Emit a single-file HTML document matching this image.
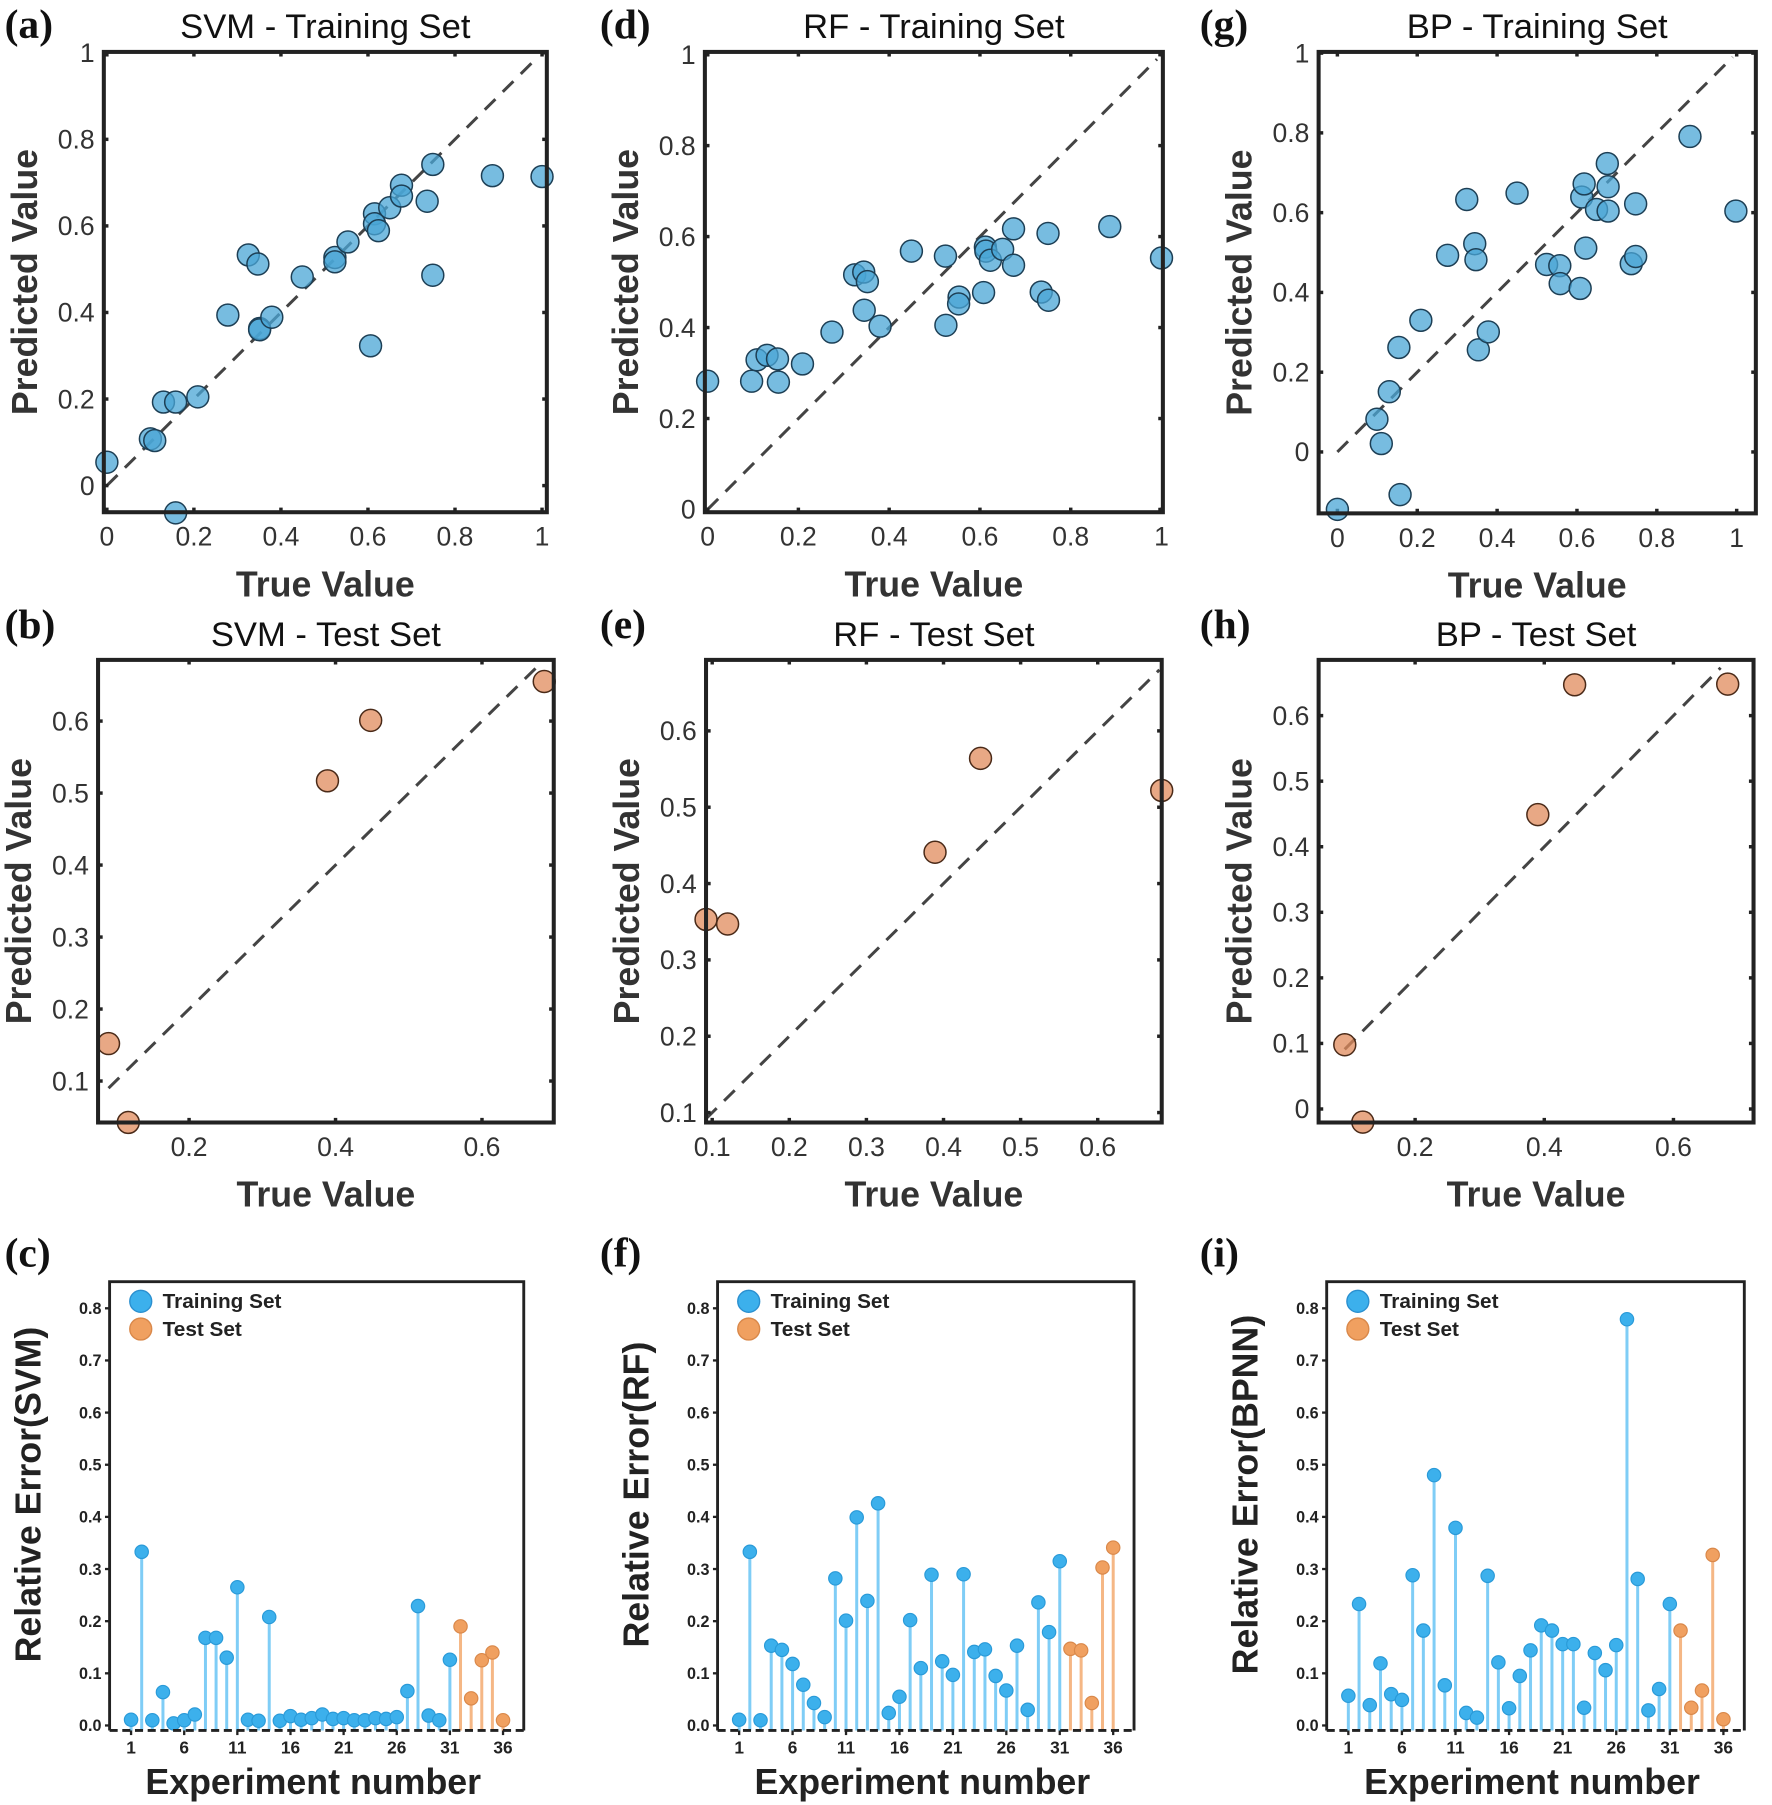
<!DOCTYPE html>
<html><head><meta charset="utf-8">
<style>
html,body{margin:0;padding:0;background:#fff;}
svg{display:block;}
text{font-family:"Liberation Sans",sans-serif;}
</style></head>
<body>
<svg id="fig" width="1772" height="1805" viewBox="0 0 1536 1564.6" preserveAspectRatio="none" xmlns="http://www.w3.org/2000/svg"></svg>
<script>
// ---- data: scatter panels ----
const svmTrainX=[0,.10,.11,.13,.158,.209,.158,.278,.325,.347,.351,.351,.379,.449,.524,.524,.554,.606,.615,.615,.624,.65,.677,.677,.736,.749,.749,.886,1.0];
const svmTrainY=[.054,.108,.104,.193,.193,.205,-.063,.394,.533,.512,.363,.36,.389,.482,.527,.517,.563,.323,.628,.605,.589,.642,.694,.669,.657,.742,.486,.716,.714];
const rfTrainX=[0,.097,.109,.131,.154,.156,.209,.274,.324,.344,.352,.345,.38,.449,.524,.525,.554,.553,.608,.612,.613,.623,.65,.674,.674,.735,.751,.75,.886,1.0];
const rfTrainY=[.282,.282,.329,.339,.331,.28,.320,.39,.516,.522,.501,.438,.403,.568,.557,.405,.467,.452,.477,.577,.568,.548,.572,.617,.537,.478,.46,.607,.622,.553];
const bpTrainX=[0,.099,.110,.130,.154,.157,.209,.276,.324,.344,.347,.353,.378,.45,.524,.557,.558,.608,.612,.618,.622,.649,.676,.678,.678,.736,.747,.747,.883,.998];
const bpTrainY=[-.144,.082,.021,.151,.262,-.107,.33,.493,.633,.522,.482,.256,.301,.649,.47,.467,.422,.41,.639,.672,.511,.608,.723,.665,.604,.472,.49,.622,.791,.604];
const svmTestX=[.090,.117,.389,.448,.685];
const svmTestY=[.152,.0425,.517,.601,.655];
const rfTestX=[.092,.12,.389,.448,.683];
const rfTestY=[.353,.347,.441,.564,.522];
const bpTestX=[.0911,.119,.39,.447,.684];
const bpTestY=[.098,-.02,.449,.647,.648];
const tick0to1=[0,0.2,0.4,0.6,0.8,1];
const tick0to1Labels=["0","0.2","0.4","0.6","0.8","1"];
// ---- data: relative error panels ----
const experiments=[1,2,3,4,5,6,7,8,9,10,11,12,13,14,15,16,17,18,19,20,21,22,23,24,25,26,27,28,29,30,31,32,33,34,35,36];
const trainCount=31;
const svmErr=[.011,.333,.01,.064,.004,.01,.021,.168,.168,.130,.265,.011,.009,.208,.009,.018,.011,.014,.021,.0125,.014,.01,.01,.014,.0125,.016,.066,.229,.019,.01,.126,.19,.052,.125,.14,.01];
const rfErr=[.011,.333,.01,.153,.145,.118,.078,.043,.016,.282,.201,.399,.239,.426,.024,.055,.202,.11,.289,.123,.097,.29,.141,.146,.095,.067,.153,.03,.236,.179,.315,.147,.144,.043,.303,.341];
const bpErr=[.057,.233,.039,.119,.06,.049,.288,.182,.48,.077,.379,.024,.015,.287,.121,.033,.095,.144,.192,.182,.156,.156,.034,.139,.106,.154,.779,.281,.029,.07,.233,.182,.034,.067,.327,.012];
const errTicks=[0,0.1,0.2,0.3,0.4,0.5,0.6,0.7,0.8];
const errTickLabels=["0.0","0.1","0.2","0.3","0.4","0.5","0.6","0.7","0.8"];
const expTicks=[1,6,11,16,21,26,31,36];

const NS="http://www.w3.org/2000/svg";
const svg=document.getElementById('fig');
function el(tag,attrs,parent,txt){const e=document.createElementNS(NS,tag);for(const k in attrs)e.setAttribute(k,attrs[k]);if(txt!==undefined)e.textContent=txt;(parent||svg).appendChild(e);return e;}
function scale(d0,d1,r0,r1){return v=>r0+(v-d0)/(d1-d0)*(r1-r0);}

function panelLabel(t,x,y){
  const e=el('text',{x:x,y:y,'font-size':36,'font-weight':'bold',style:'font-family:"Liberation Serif",serif',fill:'#111'},svg,t);
  
  
}

function scatter(o){
  const g=el('g',{});
  
  
  const [x0,y0,x1,y1]=o.box;
  const sx=scale(o.xd[0],o.xd[1],x0,x1), sy=scale(o.yd[0],o.yd[1],y1,y0);
  const t=el('text',{x:(x0+x1)/2,y:y0-12,'text-anchor':'middle','font-size':30,fill:'#111'},g,o.title);
  
  
  const dl=el('line',{x1:sx(o.diag[0]),y1:sy(o.diag[0]),x2:sx(o.diag[1]),y2:sy(o.diag[1]),stroke:'#444','stroke-width':2.6,'stroke-dasharray':'13 9'},g);
  
  
  o.xt.forEach((v,i)=>{
    const px=sx(v);
    el('line',{x1:px,y1:y1,x2:px,y2:y1-4,stroke:'#222','stroke-width':3},g);
    el('line',{x1:px,y1:y0,x2:px,y2:y0+4,stroke:'#222','stroke-width':3},g);
    const tl=el('text',{x:px,y:y1+29,'text-anchor':'middle','font-size':23,fill:'#333'},g,o.xl[i]);
    
    
  });
  o.yt.forEach((v,i)=>{
    const py=sy(v);
    el('line',{x1:x0,y1:py,x2:x0+4,y2:py,stroke:'#222','stroke-width':3},g);
    el('line',{x1:x1,y1:py,x2:x1-4,y2:py,stroke:'#222','stroke-width':3},g);
    const tl=el('text',{x:x0-8,y:py+8,'text-anchor':'end','font-size':23,fill:'#333'},g,o.yl[i]);
    
    
  });
  o.X.forEach((xv,i)=>{
    const c=el('circle',{cx:sx(xv),cy:sy(o.Y[i]),r:9.5,fill:o.fill,'fill-opacity':0.75,stroke:o.stroke,'stroke-width':1.3},g);
    
    
  });
  const b=el('rect',{x:x0,y:y0,width:x1-x0,height:y1-y0,fill:'none',stroke:'#222','stroke-width':3.5},g);
  
  
  const xt=el('text',{x:(x0+x1)/2,y:y1+73,'text-anchor':'middle','font-size':31,'font-weight':'bold',fill:'#333'},g,'True Value');
  
  
  const yc=(y0+y1)/2, yx=x0-58;
  const yt=el('text',{x:yx,y:yc,'text-anchor':'middle','font-size':31,'font-weight':'bold',fill:'#333',transform:`rotate(-90 ${yx} ${yc})`},g,'Predicted Value');
  
  
}

function stems(o){
  const g=el('g',{});
  
  
  const [x0,y0,x1,y1]=o.box;
  const sx=scale(-1.02,37.95,x0,x1), sy=scale(-0.0096,0.851,y1,y0);
  el('rect',{x:x0,y:y0,width:x1-x0,height:y1-y0,fill:'#fff',stroke:'none'},g);
  experiments.forEach((n,i)=>{
    const tr=i<trainCount;
    const px=sx(n), py=sy(o.vals[i]);
    const s=el('line',{x1:px,y1:y1,x2:px,y2:py,stroke:tr?'#7fcdf6':'#f5b785','stroke-width':2.6},g);
    
    
    const c=el('circle',{cx:px,cy:py,r:5.8,fill:tr?'#3cb0ec':'#f0a060',stroke:tr?'#2a9ad8':'#d9884a','stroke-width':1},g);
    
    
  });
  el('line',{x1:x0,y1:y1,x2:x1,y2:y1,stroke:'#222','stroke-width':2.5,'stroke-dasharray':'7 4'},g);
  el('path',{d:`M${x0} ${y1} L${x0} ${y0} L${x1} ${y0} L${x1} ${y1}`,fill:'none',stroke:'#222','stroke-width':2.5},g);
  errTicks.forEach((v,i)=>{
    const py=sy(v);
    el('line',{x1:x0-4,y1:py,x2:x0,y2:py,stroke:'#222','stroke-width':2},g);
    const tl=el('text',{x:x0-7,y:py+5,'text-anchor':'end','font-size':14,'font-weight':'bold',fill:'#222'},g,errTickLabels[i]);
    
    
  });
  expTicks.forEach(v=>{
    const px=sx(v);
    el('line',{x1:px,y1:y1,x2:px,y2:y1+4,stroke:'#222','stroke-width':2},g);
    const tl=el('text',{x:px,y:y1+20,'text-anchor':'middle','font-size':15,'font-weight':'bold',fill:'#222'},g,String(v));
    
    
  });
  const lg=el('g',{},g);
  
  
  el('circle',{cx:x0+27,cy:y0+17,r:9.5,fill:'#3cb0ec',stroke:'#2a8fcf','stroke-width':1.2},lg);
  const l1=el('text',{x:x0+46,y:y0+23,'font-size':18,'font-weight':'bold',fill:'#222'},lg,'Training Set');
  
  
  el('circle',{cx:x0+27,cy:y0+41,r:9.5,fill:'#f0a060',stroke:'#d9884a','stroke-width':1.2},lg);
  const l2=el('text',{x:x0+46,y:y0+47,'font-size':18,'font-weight':'bold',fill:'#222'},lg,'Test Set');
  
  
  const xt=el('text',{x:(x0+x1)/2-3,y:y1+55,'text-anchor':'middle','font-size':31,'font-weight':'bold',fill:'#222'},g,'Experiment number');
  
  
  const yc=(y0+y1)/2-10, yx=x0-60;
  const yt=el('text',{x:yx,y:yc,'text-anchor':'middle','font-size':31,'font-weight':'bold',fill:'#222',transform:`rotate(-90 ${yx} ${yc})`},g,o.ylabel);
  
  
}

const blueF='#4aa6d6', blueS='#1d3f55', orF='#e08b5c', orS='#4a2a18';
scatter({name:'svm-training-chart',title:'SVM - Training Set',box:[90,45,474,444],xd:[-0.007,1.011],yd:[-0.0615,1.002],diag:[0,0.985],xt:tick0to1,xl:tick0to1Labels,yt:tick0to1,yl:tick0to1Labels,X:svmTrainX,Y:svmTrainY,fill:blueF,stroke:blueS});
scatter({name:'rf-training-chart',title:'RF - Training Set',box:[611,45,1008,444],xd:[-0.006,1.003],yd:[-0.006,1.006],diag:[0,0.99],xt:tick0to1,xl:tick0to1Labels,yt:tick0to1,yl:tick0to1Labels,X:rfTrainX,Y:rfTrainY,fill:blueF,stroke:blueS});
scatter({name:'bp-training-chart',title:'BP - Training Set',box:[1143,45,1522,445],xd:[-0.047,1.048],yd:[-0.154,1.003],diag:[0,0.99],xt:tick0to1,xl:tick0to1Labels,yt:tick0to1,yl:tick0to1Labels,X:bpTrainX,Y:bpTrainY,fill:blueF,stroke:blueS});
scatter({name:'svm-test-chart',title:'SVM - Test Set',box:[85,572,480,973],xd:[0.0757,0.698],yd:[0.0424,0.685],diag:[0.09,0.678],xt:[.2,.4,.6],xl:["0.2","0.4","0.6"],yt:[.1,.2,.3,.4,.5,.6],yl:["0.1","0.2","0.3","0.4","0.5","0.6"],X:svmTestX,Y:svmTestY,fill:orF,stroke:orS});
scatter({name:'rf-test-chart',title:'RF - Test Set',box:[612,572,1007,973],xd:[0.092,0.683],yd:[0.087,0.693],diag:[0.092,0.68],xt:[.1,.2,.3,.4,.5,.6],xl:["0.1","0.2","0.3","0.4","0.5","0.6"],yt:[.1,.2,.3,.4,.5,.6],yl:["0.1","0.2","0.3","0.4","0.5","0.6"],X:rfTestX,Y:rfTestY,fill:orF,stroke:orS});
scatter({name:'bp-test-chart',title:'BP - Test Set',box:[1143,572,1520,973],xd:[0.0506,0.724],yd:[-0.0206,0.685],diag:[0.091,0.673],xt:[.2,.4,.6],xl:["0.2","0.4","0.6"],yt:[0,.1,.2,.3,.4,.5,.6],yl:["0","0.1","0.2","0.3","0.4","0.5","0.6"],X:bpTestX,Y:bpTestY,fill:orF,stroke:orS});
stems({name:'svm-error-chart',box:[95,1111,454,1500],vals:svmErr,ylabel:'Relative Error(SVM)'});
stems({name:'rf-error-chart',box:[622,1111,983,1500],vals:rfErr,ylabel:'Relative Error(RF)'});
stems({name:'bp-error-chart',box:[1150,1111,1512,1500],vals:bpErr,ylabel:'Relative Error(BPNN)'});

panelLabel('(a)',4,33);panelLabel('(d)',520,33);panelLabel('(g)',1040,33);
panelLabel('(b)',4,553);panelLabel('(e)',520,553);panelLabel('(h)',1040,553);
panelLabel('(c)',4,1098);panelLabel('(f)',520,1098);panelLabel('(i)',1040,1098);
</script>
</body></html>
